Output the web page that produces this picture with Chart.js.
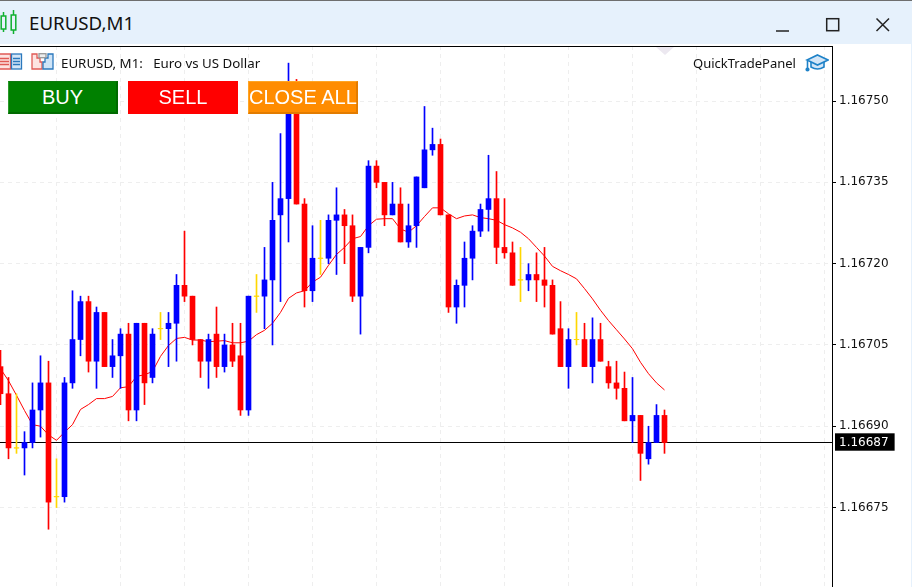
<!DOCTYPE html>
<html>
<head>
<meta charset="utf-8">
<title>EURUSD,M1</title>
<script src="https://cdn.jsdelivr.net/npm/chart.js@4/dist/chart.umd.min.js"></script>
<style>
  html, body { margin: 0; padding: 0; background: #fff; }
  #win { position: relative; width: 912px; height: 587px; overflow: hidden; font-family: "Noto Sans", sans-serif; color: #111; }
  #bar { position: absolute; left: 0; top: 0; width: 912px; height: 44px; background: #e6f1fc; border-top: 1px solid #6e6e6e; box-sizing: border-box; }
  #title { position: absolute; left: 29px; top: 9px; font-size: 18.7px; line-height: 26px; }
  #topline { position: absolute; left: 0; top: 46px; width: 833px; height: 1px; background: #000; z-index: 3; }
  #rightedge { position: absolute; left: 911px; top: 44px; width: 1px; height: 543px; background: #e6f1fc; }
  #notch { position: absolute; left: 656px; top: 47px; width: 0; height: 0; border-left: 9px solid transparent; border-right: 9px solid transparent; border-top: 8px solid #ece8f0; }
  canvas { position: absolute; left: 0; top: 0; }
  .label { position: absolute; top: 53px; font-size: 13px; line-height: 20px; white-space: pre; z-index: 2; }
  .btn { position: absolute; top: 81px; width: 110px; height: 33px; box-sizing: border-box; color: #fff; font-family: "Liberation Sans", Arial, sans-serif; font-size: 20px; line-height: 33px; text-align: center; white-space: nowrap; z-index: 2; }
  svg { position: absolute; z-index: 2; }
</style>
</head>
<body>
<div id="win">
  <div id="bar"><div id="title">EURUSD,M1</div></div>
  <svg style="left:0;top:9px" width="18" height="26" fill="none" stroke="#10b030" stroke-width="1.5">
    <path d="M3.5 3v4M3.5 20v3M13.5 1v5M13.5 21v4"/><rect x="1.2" y="7" width="4.6" height="13"/><rect x="11.2" y="6" width="4.6" height="15"/>
  </svg>
  <svg style="left:776px;top:17px" width="114" height="16" fill="none" stroke="#222" stroke-width="1.5">
    <path d="M0 14H13"/><rect x="50.7" y="1.7" width="12" height="12"/><path d="M100.5 1.5L113 14M113 1.5L100.5 14"/>
  </svg>

  <div id="notch"></div>
  <canvas id="candles" width="912" height="587"></canvas>
  <div id="topline"></div>
  <div id="rightedge"></div>

  <svg style="left:0;top:53px" width="56" height="18" fill="none" stroke-width="1.3">
    <path d="M0 1H10.5V16H0" fill="#fde3e1" stroke="#e05a55"/><path d="M0 5.5H9M0 8.5H9M0 11.5H9" stroke="#e05a55"/>
    <rect x="11.5" y="1" width="10" height="15" fill="#d4e6f7" stroke="#2b78bd"/><path d="M13 5.5H20M13 8.5H20M13 11.5H20" stroke="#2b78bd"/>
    <path d="M32 1H37V5H40V9H42V16H32Z" fill="#fde3e1" stroke="#e05a55"/>
    <path d="M48 1H53V16H43V9H45V5H48Z" fill="#cfe4f7" stroke="#2b78bd"/>
    <rect x="39" y="0.7" width="7" height="4" fill="#eee" stroke="#999"/>
  </svg>
  <div class="label" style="left:61px;font-size:13.3px">EURUSD, M1:   Euro vs US Dollar</div>
  <div class="label" style="left:693px">QuickTradePanel</div>
  <svg style="left:805px;top:53px" width="24" height="20" fill="#d4e6f7" stroke="#1e82c8" stroke-width="1.6">
    <path d="M6 8V14Q12.500 18 19 14V8"/><path d="M12.500 2L23 7L12.500 12L2 7Z"/><path d="M2.500 8V15" fill="none"/><circle cx="2.500" cy="16.500" r="1.300" fill="#1e82c8"/>
  </svg>

  <div class="btn" style="left:8px;background:#008000;border-top:1px solid #0d7a0d;border-left:1px solid #2a9a2a;border-right:2px solid #006a00;border-bottom:2px solid #006a00;line-height:31px">BUY</div>
  <div class="btn" style="left:128px;background:#ff0000;line-height:33px">SELL</div>
  <div class="btn" style="left:248px;background:#ff8c00;border-top:1px solid #ffa524;border-left:1px solid #ffa524;border-right:2px solid #e37c00;border-bottom:2px solid #e37c00;line-height:31px">CLOSE ALL</div>
</div>

<script>
// M1 candles, oldest first
const opens = [1.16701,1.16696,1.16686,1.16686,1.16687,1.16693,1.16698,1.16677,1.16677,1.16698,1.16706,1.16713,1.16702,1.16711,
  1.16701,1.16703,1.16707,1.16693,1.16709,1.16699,1.16708,1.16708,1.16709,1.16716,1.16714,1.16706,1.16702,1.16707,
  1.16701,1.16705,1.16703,1.16693,1.16714,1.16714,1.16717,1.16729,1.16732,1.16750,1.16731,1.16715,1.16721,1.16721,
  1.16728,1.16729,1.16727,1.16714,1.16723,1.16738,1.16735,1.16729,1.16731,1.16724,1.16727,1.16734,1.16741,1.16742,
  1.16729,1.16712,1.16716,1.16721,1.16726,1.16730,1.16732,1.16723,1.16722,1.16717,1.16717,1.16718,1.16717,1.16716,
  1.16708,1.16701,1.16706,1.16706,1.16701,1.16706,1.16701,1.16698,1.16697,1.16691,1.16692,1.16684,1.16687,1.16692];
const closes = [1.16696,1.16686,1.16686,1.16687,1.16693,1.16698,1.16676,1.16677,1.16698,1.16706,1.16713,1.16702,1.16711,1.16701,
  1.16703,1.16707,1.16693,1.16709,1.16698,1.16707,1.16708,1.16709,1.16716,1.16714,1.16706,1.16702,1.16706,1.16701,
  1.16705,1.16702,1.16693,1.16714,1.16714,1.16717,1.16728,1.16732,1.16750,1.16731,1.16715,1.16721,1.16721,1.16728,
  1.16729,1.16727,1.16714,1.16723,1.16738,1.16735,1.16729,1.16731,1.16724,1.16727,1.16736,1.16741,1.16742,1.16729,
  1.16712,1.16716,1.16721,1.16726,1.16730,1.16732,1.16723,1.16722,1.16716,1.16717,1.16718,1.16717,1.16716,1.16707,
  1.16701,1.16706,1.16706,1.16701,1.16706,1.16702,1.16698,1.16697,1.16691,1.16692,1.16685,1.16687,1.16692,1.16687];
const highs = [1.16704,1.16699,1.16696,1.16689,1.16698,1.16703,1.16702,1.16684,1.16699,1.16715,1.16714,1.16714,1.16712,1.16711,
  1.16706,1.16708,1.16709,1.16709,1.16709,1.16708,1.16711,1.16711,1.16718,1.16726,1.16714,1.16706,1.16707,1.16712,
  1.16707,1.16709,1.16709,1.16714,1.16718,1.16723,1.16735,1.16744,1.16757,1.16754,1.16732,1.16727,1.16728,1.16729,
  1.16734,1.16730,1.16729,1.16723,1.16739,1.16739,1.16735,1.16735,1.16734,1.16731,1.16736,1.16749,1.16745,1.16743,
  1.16729,1.16717,1.16724,1.16727,1.16731,1.16740,1.16737,1.16732,1.16724,1.16723,1.16720,1.16722,1.16723,1.16717,
  1.16713,1.16708,1.16711,1.16709,1.16710,1.16709,1.16702,1.16702,1.16700,1.16699,1.16692,1.16690,1.16694,1.16693];
const lows = [1.16694,1.16684,1.16685,1.16681,1.16686,1.16688,1.16671,1.16675,1.16676,1.16697,1.16703,1.16700,1.16697,1.16701,
  1.16699,1.16697,1.16691,1.16691,1.16694,1.16698,1.16706,1.16701,1.16702,1.16713,1.16705,1.16699,1.16697,1.16699,
  1.16700,1.16701,1.16692,1.16692,1.16711,1.16708,1.16705,1.16713,1.16724,1.16731,1.16712,1.16713,1.16718,1.16720,
  1.16718,1.16720,1.16713,1.16707,1.16722,1.16734,1.16727,1.16729,1.16724,1.16723,1.16723,1.16734,1.16740,1.16729,
  1.16711,1.16709,1.16712,1.16717,1.16725,1.16726,1.16720,1.16721,1.16716,1.16713,1.16715,1.16713,1.16712,1.16707,
  1.16701,1.16697,1.16705,1.16701,1.16698,1.16702,1.16697,1.16695,1.16691,1.16687,1.16680,1.16683,1.16687,1.16685];
// moving average drawn on the chart
const maValues = [1.167006,1.166984,1.166957,1.166929,1.166903,1.1669,1.166884,1.166874,1.166889,1.166903,1.166931,1.16694,1.166951,1.166951,
  1.166955,1.166971,1.166973,1.166992,1.166995,1.167001,1.167029,1.167049,1.167062,1.167064,1.167059,1.167059,1.167056,1.167057,
  1.167058,1.167054,1.167054,1.167057,1.167069,1.167077,1.16709,1.16711,1.167136,1.167146,1.16715,1.167166,1.167175,1.167197,
  1.167217,1.16723,1.167246,1.16725,1.16727,1.167282,1.167283,1.167283,1.167264,1.167258,1.16727,1.167287,1.167303,1.167303,
  1.167292,1.167283,1.167288,1.16729,1.167285,1.167283,1.16728,1.167272,1.167266,1.167258,1.167246,1.16723,1.167214,1.167195,
  1.167187,1.16718,1.167172,1.167154,1.167135,1.167114,1.167095,1.167078,1.167061,1.167043,1.167018,1.166997,1.16698,1.166967];
const priceTicks = [1.16750, 1.16735, 1.16720, 1.16705, 1.16690, 1.16675];
const lastPrice = 1.16687;
const timeGrid = [7, 15, 23, 31, 39, 47, 55, 63, 71, 79, 87, 95, 103];

const xMin = -0.0625, xMax = 103.9375;
const yMin = 1.1666034, yMax = 1.1676016;

const BLUE = '#0000ff', RED = '#ff0000', GOLD = '#ffd700';
const candleColor = i => closes[i] > opens[i] ? BLUE : closes[i] < opens[i] ? RED : GOLD;
const colors = opens.map((o, i) => candleColor(i));

// the plot has to run edge to edge, so drop the room chart.js keeps for outer labels
const noPadding = s => { s.paddingLeft = s.paddingRight = s.paddingTop = s.paddingBottom = 0; };

new Chart(document.getElementById('candles').getContext('2d'), {
  type: 'bar',
  data: {
    datasets: [
      {
        type: 'line', label: 'Last', order: 5,
        data: [{ x: xMin, y: lastPrice }, { x: xMax, y: lastPrice }],
        borderColor: '#000', borderWidth: 1, pointRadius: 0
      },
      {
        type: 'line', label: 'MA', order: 4,
        data: maValues.map((v, i) => ({ x: i, y: v })),
        borderColor: RED, borderWidth: 1, pointRadius: 0, tension: 0
      },
      {
        label: 'Wicks', order: 3,
        data: lows.map((v, i) => ({ x: i, y: [v, highs[i]] })),
        backgroundColor: colors, barThickness: 1, borderWidth: 0, grouped: false
      },
      {
        label: 'Bodies', order: 2,
        data: opens.map((v, i) => ({ x: i, y: [v, closes[i]] })),
        backgroundColor: colors, barThickness: 5, borderWidth: 0, grouped: false
      },
      {
        type: 'line', label: 'Doji', order: 1, showLine: false,
        data: opens.map((v, i) => ({ x: i, y: v })).filter(p => opens[p.x] === closes[p.x]),
        pointStyle: 'line', pointRadius: 2.5, pointBorderWidth: 1, pointBorderColor: GOLD
      }
    ]
  },
  options: {
    responsive: false,
    animation: false,
    layout: { padding: { top: 46 }, autoPadding: false },
    plugins: { legend: { display: false }, tooltip: { enabled: false } },
    scales: {
      x: {
        type: 'linear', min: xMin, max: xMax, offset: false,
        afterBuildTicks: s => { s.ticks = timeGrid.map(value => ({ value })); },
        afterFit: s => { noPadding(s); s.height = 0; },
        ticks: { display: false },
        grid: { color: '#eeeeee', drawTicks: false, offset: false },
        border: { display: false, dash: [4, 4] }
      },
      y: {
        position: 'right', min: yMin, max: yMax,
        afterFit: s => { noPadding(s); s.width = 80; },
        afterBuildTicks: s => { s.ticks = priceTicks.concat(lastPrice).map(value => ({ value })); },
        ticks: {
          autoSkip: false,
          padding: 3,
          font: { family: 'DejaVu Sans', size: 12 },
          color: c => c.tick.value === lastPrice ? '#fff' : '#111',
          callback: v => v.toFixed(5),
          showLabelBackdrop: c => c.tick.value === lastPrice,
          backdropColor: '#000',
          backdropPadding: { left: 4, right: 6, top: 2, bottom: 1 }
        },
        grid: {
          color: c => c.tick && c.tick.value === lastPrice ? 'transparent' : '#eeeeee',
          tickColor: c => c.tick && c.tick.value === lastPrice ? 'transparent' : '#000',
          tickLength: 4
        },
        border: { color: '#000', width: 1, dash: [4, 4] }
      }
    }
  }
});
</script>
</body>
</html>
